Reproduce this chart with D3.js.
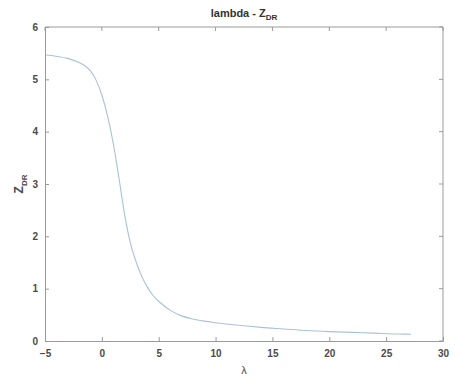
<!DOCTYPE html>
<html>
<head>
<meta charset="utf-8">
<script src="https://cdn.jsdelivr.net/npm/d3@7"></script>
<style>
  html, body { margin: 0; padding: 0; background: #fff; }
  svg { display: block; }
  text { font-family: "Liberation Sans", Arial, sans-serif; }
</style>
</head>
<body>
<svg id="chart" width="455" height="383"></svg>
<script>
// lambda values and the matching Z_DR values
const lambdaValues = [-5, -4, -3, -2, -1.5, -1, -0.5, 0, 0.5, 1, 1.5, 2, 2.5, 3, 3.5, 4, 4.5, 5, 6, 7, 8, 9, 10, 12, 14, 16, 18, 20, 22, 24, 26, 27.2];
const zdrValues    = [5.47, 5.44, 5.40, 5.32, 5.26, 5.16, 4.98, 4.70, 4.30, 3.78, 3.12, 2.42, 1.88, 1.52, 1.24, 1.03, 0.87, 0.76, 0.59, 0.48, 0.42, 0.38, 0.35, 0.30, 0.26, 0.23, 0.20, 0.18, 0.165, 0.15, 0.135, 0.13];
const xTicks = [-5, 0, 5, 10, 15, 20, 25, 30];
const yTicks = [0, 1, 2, 3, 4, 5, 6];

const svg = d3.select("#chart");
const margin = { left: 45, right: 12, top: 27, bottom: 42 };
const W = 455, H = 383;

const x = d3.scaleLinear().domain([-5, 30]).range([margin.left, W - margin.right]);
const y = d3.scaleLinear().domain([0, 6]).range([H - margin.bottom, margin.top]);

const axisColor = "#9a9a9a";
const textColor = "#4a4a4a";

// data line
svg.append("path")
  .datum(lambdaValues.map((d, i) => [d, zdrValues[i]]))
  .attr("fill", "none")
  .attr("stroke", "#a9c3d6")
  .attr("stroke-width", 1.1)
  .attr("d", d3.line().x(d => x(d[0])).y(d => y(d[1])).curve(d3.curveMonotoneX));

// bottom axis
const xAxis = svg.append("g")
  .attr("transform", `translate(0,${y(0)})`)
  .call(d3.axisBottom(x).tickValues(xTicks).tickSize(-4).tickPadding(9).tickFormat(d3.format("d")));
// left axis
const yAxis = svg.append("g")
  .attr("transform", `translate(${x(-5)},0)`)
  .call(d3.axisLeft(y).tickValues(yTicks).tickSize(-4).tickPadding(7).tickFormat(d3.format("d")));

[xAxis, yAxis].forEach(g => {
  g.select(".domain").attr("stroke", axisColor).attr("stroke-width", 1);
  g.selectAll(".tick line").attr("stroke", axisColor);
  g.selectAll(".tick text").attr("fill", textColor).attr("font-size", 10).attr("font-weight", "bold");
});

// top and right box edges with their inner ticks
svg.append("line").attr("x1", x(-5)).attr("x2", x(30)).attr("y1", y(6)).attr("y2", y(6)).attr("stroke", axisColor);
svg.append("line").attr("x1", x(30)).attr("x2", x(30)).attr("y1", y(0)).attr("y2", y(6)).attr("stroke", axisColor);
svg.selectAll(".tt").data(xTicks).enter().append("line")
  .attr("x1", d => x(d)).attr("x2", d => x(d)).attr("y1", y(6)).attr("y2", y(6) + 4).attr("stroke", axisColor);
svg.selectAll(".rt").data(yTicks).enter().append("line")
  .attr("x1", x(30)).attr("x2", x(30) - 4).attr("y1", d => y(d)).attr("y2", d => y(d)).attr("stroke", axisColor);

// title
const title = svg.append("text")
  .attr("x", (x(-5) + x(30)) / 2).attr("y", 17)
  .attr("text-anchor", "middle")
  .attr("font-size", 11).attr("font-weight", "bold").attr("fill", "#333");
title.append("tspan").text("lambda - Z");
title.append("tspan").attr("font-size", 8).attr("dy", 3).text("DR");

// x label
svg.append("text")
  .attr("x", (x(-5) + x(30)) / 2).attr("y", 374)
  .attr("text-anchor", "middle")
  .attr("font-size", 11).attr("fill", textColor)
  .text("λ");

// y label
const yl = svg.append("text")
  .attr("transform", `translate(23,${(y(0) + y(6)) / 2}) rotate(-90)`)
  .attr("text-anchor", "middle")
  .attr("font-size", 12).attr("font-weight", "bold").attr("fill", textColor);
yl.append("tspan").text("Z");
yl.append("tspan").attr("font-size", 8).attr("dy", 4).text("DR");
</script>
</body>
</html>
